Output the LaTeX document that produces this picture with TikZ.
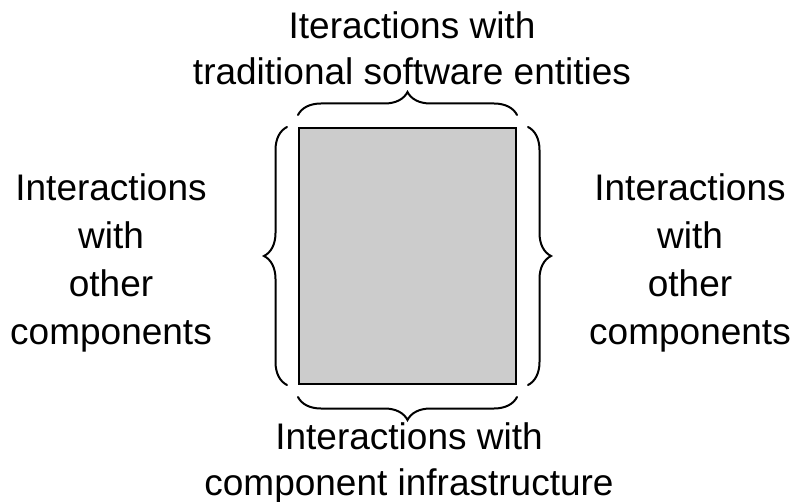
\documentclass[tikz,border=0pt]{standalone}
\usepackage{fontspec}
\setmainfont{Liberation Sans}
\usetikzlibrary{decorations.pathreplacing}
\begin{document}
\begin{tikzpicture}[x=1pt,y=-1pt,
  label text/.style={align=center, font=\fontsize{37}{46}\selectfont, inner sep=0pt},
  side text/.style={label text, font=\fontsize{37}{48}\selectfont},
  component/.style={draw=black, line width=2pt, fill=black!20, inner sep=0pt,
    minimum width=217pt, minimum height=256pt},
  bracket/.style={draw=black, line width=2pt, line cap=round,
    decorate, decoration={brace, amplitude=23pt}}]
  \useasboundingbox (0,0) rectangle (794,502);

  % the component itself
  \node[component] (comp) at (407.5,256) {};

  % braces around the four sides
  \draw[bracket] ([yshift=12pt]comp.north west) -- ([yshift=12pt]comp.north east);
  \draw[bracket] ([yshift=-12pt]comp.south east) -- ([yshift=-12pt]comp.south west);
  \draw[bracket] ([xshift=-11pt]comp.south west) -- ([xshift=-11pt]comp.north west);
  \draw[bracket] ([xshift=11pt]comp.north east) -- ([xshift=11pt]comp.south east);

  % labels
  \node[label text] (top) at (412,48) {Iteractions with\\traditional software entities};
  \node[label text] (bottom) at (409,463) {Interactions with\\component infrastructure};
  \node[side text] (left) at (111,263) {Interactions\\with\\other\\components};
  \node[side text] (right) at (690,263) {Interactions\\with\\other\\components};
\end{tikzpicture}
\end{document}
